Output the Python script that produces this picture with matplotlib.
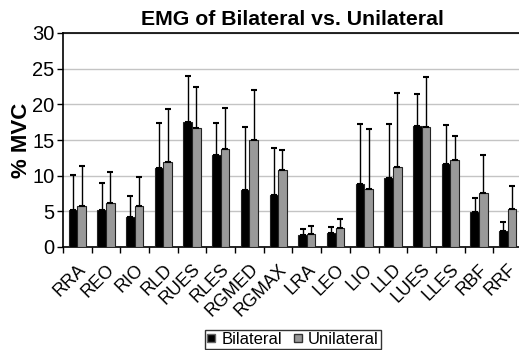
import numpy as np
import matplotlib
matplotlib.use('Agg')
from matplotlib import pyplot as plt
from matplotlib.lines import Line2D
import matplotlib.transforms as mtransforms

plt.rcParams['font.family'] = ['Liberation Sans', 'DejaVu Sans']

muscles = ['RRA', 'REO', 'RIO', 'RLD', 'RUES', 'RLES', 'RGMED', 'RGMAX',
           'LRA', 'LEO', 'LIO', 'LLD', 'LUES', 'LLES', 'RBF', 'RRF']
bilateral = [5.15, 5.15, 4.2, 11.1, 17.55, 12.95, 7.95, 7.25,
             1.65, 2.0, 8.8, 9.7, 17.0, 11.65, 4.95, 2.2]
bilateral_sd = [4.9, 3.85, 2.95, 6.25, 6.45, 4.45, 8.9, 6.6,
                0.9, 0.85, 8.5, 7.55, 4.5, 5.45, 1.85, 1.3]
unilateral = [5.7, 6.1, 5.75, 11.95, 16.7, 13.8, 14.95, 10.8,
              1.8, 2.65, 8.15, 11.25, 16.85, 12.15, 7.6, 5.3]
unilateral_sd = [5.6, 4.45, 4.1, 7.45, 5.7, 5.65, 7.0, 2.85,
                 1.1, 1.3, 8.35, 10.4, 7.05, 3.35, 5.3, 3.25]

x = np.arange(len(muscles))
width = 0.3

fig = plt.figure(figsize=(5.19, 3.5), dpi=100)
ax = fig.add_axes([63 / 519, 1 - 247 / 350, 459 / 519, 214 / 350])

err_kw = dict(ecolor='black', elinewidth=1.0, capsize=2.5, capthick=1.5)
ax.bar(x - width / 2, bilateral, width, color='black', edgecolor='#222222',
       linewidth=0.8, yerr=[np.zeros(len(x)), bilateral_sd], error_kw=err_kw,
       zorder=3)
ax.bar(x + width / 2, unilateral, width, color='#999999', edgecolor='#222222',
       linewidth=0.8, yerr=[np.zeros(len(x)), unilateral_sd], error_kw=err_kw,
       zorder=3)

ax.set_xlim(-0.5, len(x) - 0.5)
ax.set_ylim(0, 30)
ax.set_yticks(np.arange(0, 31, 5))
ax.yaxis.grid(True, color='#c4c4c4', linewidth=1.0, zorder=0)
ax.set_axisbelow(True)

# ticks sit between categories, labels at the category centres
ax.set_xticks(np.arange(-0.5, len(x), 1.0))
ax.set_xticklabels([])
ax.set_xticks(x, minor=True)
ax.set_xticklabels(muscles, minor=True, rotation=45, ha='right', va='top',
                   fontsize=13)
ax.tick_params(axis='x', which='minor', length=0, pad=10)
ax.tick_params(axis='x', which='major', length=4, direction='out', width=1)
ax.tick_params(axis='y', length=4, direction='out', width=1, labelsize=14.5, pad=2)

offset = mtransforms.ScaledTranslation(12 / 100, 0, fig.dpi_scale_trans)
for lbl in ax.xaxis.get_minorticklabels():
    lbl.set_transform(lbl.get_transform() + offset)

for side in ['left', 'top', 'bottom']:
    ax.spines[side].set_linewidth(1.2)
    ax.spines[side].set_color('black')
ax.spines['right'].set_visible(False)

ax.set_ylabel('% MVC', fontsize=16, fontweight='bold', labelpad=0)
ax.set_title('EMG of Bilateral vs. Unilateral', fontsize=15.3,
             fontweight='bold', pad=6)

handles = [Line2D([], [], linestyle='none', marker='s', markersize=6,
                  markerfacecolor='black', markeredgecolor='#666666',
                  label='Bilateral'),
           Line2D([], [], linestyle='none', marker='s', markersize=6,
                  markerfacecolor='#999999', markeredgecolor='#333333',
                  label='Unilateral')]
leg = fig.legend(handles=handles, loc='center', bbox_to_anchor=(293 / 519, 1 - 339.5 / 350),
                 ncol=2, fontsize=12, frameon=True, fancybox=False,
                 handlelength=0.5, handletextpad=0.35,
                 columnspacing=0.7, borderpad=0.12, borderaxespad=0)
leg.get_frame().set_edgecolor('black')
leg.get_frame().set_linewidth(1.0)

fig.savefig('out.png', dpi=100)
